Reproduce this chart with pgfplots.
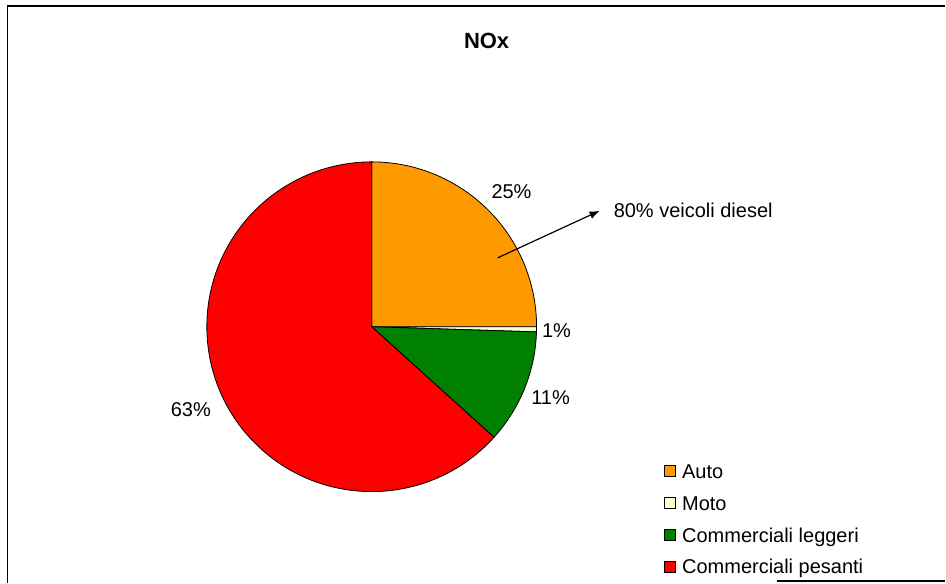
\documentclass[border=0pt]{standalone}
\usepackage{pgfplots}
\usepackage{pgfplotstable}
\pgfplotsset{compat=1.18}
\usetikzlibrary{arrows.meta}
\usepackage{fontspec}
\setmainfont{Liberation Sans}
\definecolor{autoc}{RGB}{255,153,0}
\definecolor{motoc}{RGB}{255,255,204}
\definecolor{leggc}{RGB}{0,128,0}
\definecolor{pesc}{RGB}{255,0,0}
\pgfplotstableread{
label value
Auto 25.0
Moto 0.5
Leggeri 11.2
Pesanti 63.3
}\noxtable
\begin{document}%
\begin{tikzpicture}
\pgfplotstablegetelem{0}{value}\of\noxtable \pgfmathsetmacro\aA{90-3.6*\pgfplotsretval}
\pgfplotstablegetelem{1}{value}\of\noxtable \pgfmathsetmacro\aB{\aA-3.6*\pgfplotsretval}
\pgfplotstablegetelem{2}{value}\of\noxtable \pgfmathsetmacro\aC{\aB-3.6*\pgfplotsretval}
\pgfplotstablegetelem{3}{value}\of\noxtable \pgfmathsetmacro\aD{\aC-3.6*\pgfplotsretval}
\def\R{165pt}
\begin{axis}[
  x=165pt, y=165pt,
  scale only axis,
  xmin=-2.254545, xmax=3.478788,
  ymin=-1.551515, ymax=1.981818,
  hide axis, clip=false,
  legend style={draw=none, fill=none, inner sep=0pt, outer sep=0pt,
    at={(axis cs:1.775758,-0.830)}, anchor=north west,
    font=\fontsize{20}{24}\selectfont, row sep=13pt, column sep=6pt,
    nodes={inner sep=0pt, text height=14.5pt, text depth=4.5pt}},
  legend cell align=left,
]
\path (rel axis cs:0,0) rectangle (rel axis cs:1,1);
\filldraw[fill=autoc, draw=black, line width=0.8pt] (0,0) -- +(90:\R) arc[start angle=90, end angle=\aA, radius=\R] -- cycle;
\filldraw[fill=motoc, draw=black, line width=0.8pt] (0,0) -- +(\aA:\R) arc[start angle=\aA, end angle=\aB, radius=\R] -- cycle;
\filldraw[fill=leggc, draw=black, line width=0.8pt] (0,0) -- +(\aB:\R) arc[start angle=\aB, end angle=\aC, radius=\R] -- cycle;
\filldraw[fill=pesc, draw=black, line width=0.8pt] (0,0) -- +(\aC:\R) arc[start angle=\aC, end angle=\aD, radius=\R] -- cycle;
\addlegendimage{legend image code/.code={\draw[fill=autoc,draw=black,line width=0.7pt] (0pt,-3pt) rectangle (11pt,8pt);}}
\addlegendentry{Auto}
\addlegendimage{legend image code/.code={\draw[fill=motoc,draw=black,line width=0.7pt] (0pt,-3pt) rectangle (11pt,8pt);}}
\addlegendentry{Moto}
\addlegendimage{legend image code/.code={\draw[fill=leggc,draw=black,line width=0.7pt] (0pt,-3pt) rectangle (11pt,8pt);}}
\addlegendentry{Commerciali leggeri}
\addlegendimage{legend image code/.code={\draw[fill=pesc,draw=black,line width=0.7pt] (0pt,-3pt) rectangle (11pt,8pt);}}
\addlegendentry{Commerciali pesanti}
\node[font=\fontsize{20}{24}\selectfont] at (0.848,0.818) {25\%};
\node[font=\fontsize{20}{24}\selectfont] at (1.121,-0.024) {1\%};
\node[font=\fontsize{20}{24}\selectfont] at (1.085,-0.430) {11\%};
\node[font=\fontsize{20}{24}\selectfont] at (-1.097,-0.503) {63\%};
\node[font=\fontsize{20}{24}\selectfont, anchor=west, inner sep=0pt] at (1.467,0.703) {80\% veicoli diesel};
\draw[line width=1.2pt, -{Latex[length=10pt,width=8pt]}] (0.764,0.418) -- (1.382,0.703);
\node[font=\fontsize{22}{26}\selectfont\bfseries] at (0.69697,1.733) {NOx};
\draw[line width=1.5pt] (rel axis cs:0.00793,0) -- (rel axis cs:0.00793,0.99) -- (rel axis cs:1,0.99);
\draw[line width=1.3pt] (rel axis cs:0.8224,0.0026) -- (rel axis cs:1,0.0026);
\end{axis}
\end{tikzpicture}%
\end{document}
